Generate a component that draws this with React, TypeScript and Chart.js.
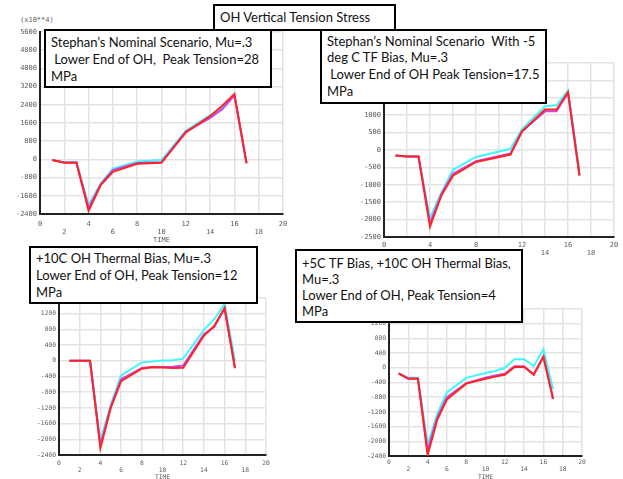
import React, { useEffect, useRef } from 'react';
import { Chart, registerables } from 'chart.js';
Chart.register(...registerables);

// ---------------- data ----------------
const xTicks = [0, 2, 4, 6, 8, 10, 12, 14, 16, 18, 20];

// Chart 1: Stephan's Nominal Scenario
const c1Time = [1, 2, 3, 4, 5, 6, 8, 10, 12, 14, 15, 16, 17];
const c1Cyan = [-30, -120, -120, -2010, -1055, -400, -90, -30, 1260, 1950, 2290, 2820, -150];
const c1Magenta = [-30, -140, -140, -2130, -1090, -470, -160, -120, 1210, 1820, 2200, 2800, -165];
const c1Red = [-30, -150, -150, -2260, -1130, -545, -190, -150, 1190, 1900, 2360, 2870, -175];

// Chart 2: -5 deg C TF bias
const c2Time = [1, 2, 3, 4, 5, 6, 8, 11, 12, 14, 15, 16, 17];
const c2Cyan = [-155, -190, -190, -1960, -1210, -570, -200, 35, 600, 1260, 1285, 1710, -600];
const c2Magenta = [-155, -190, -190, -2100, -1260, -680, -320, -100, 540, 1110, 1110, 1640, -720];
const c2Red = [-155, -190, -190, -2200, -1300, -740, -345, -130, 530, 1165, 1165, 1660, -740];

// Chart 3: +10C OH thermal bias
const c3Time = [1, 2, 3, 4, 5, 6, 8, 9, 10, 11, 12, 14, 15, 16, 17];
const c3Cyan = [0, 0, 0, -2030, -1115, -370, -40, -20, 10, 15, 55, 790, 1060, 1450, 0];
const c3Magenta = [0, 0, 0, -2150, -1170, -470, -180, -155, -160, -150, -120, 680, 860, 1330, -170];
const c3Red = [0, 0, 0, -2225, -1200, -520, -200, -165, -170, -185, -175, 640, 890, 1345, -190];

// Chart 4: +5C TF bias, +10C OH thermal bias
const c4Time = [1, 2, 3, 4, 5, 6, 8, 10, 11, 12, 13, 14, 15, 16, 17];
const c4Cyan = [-155, -270, -270, -2100, -1250, -670, -275, -140, -85, 0, 235, 235, 45, 500, -590];
const c4Magenta = [-155, -290, -290, -2250, -1350, -800, -420, -270, -210, -160, 40, 40, -180, 310, -830];
const c4Red = [-155, -300, -300, -2375, -1415, -860, -430, -300, -240, -190, 25, 25, -185, 300, -850];

const titleText = 'OH Vertical Tension Stress';
const box1Lines = ['Stephan\u2019s Nominal Scenario, Mu=.3', ' Lower End of OH,  Peak Tension=28', 'MPa'];
const box2Lines = ['Stephan\u2019s Nominal Scenario  With -5', 'deg C TF Bias, Mu=.3', ' Lower End of OH Peak Tension=17.5', 'MPa'];
const box3Lines = ['+10C OH Thermal Bias, Mu=.3', 'Lower End of OH, Peak Tension=12', 'MPa'];
const box4Lines = ['+5C TF Bias, +10C OH Thermal Bias,', 'Mu=.3', 'Lower End of OH, Peak Tension=4', 'MPa'];

const CYAN = '#3ff8f8';
const MAGENTA = '#c846f0';
const RED = '#ff2424';
const GRID = '#e3e3e3';
const TICK = '#5a5a5a';
const MONO = '"DejaVu Sans Mono", "Liberation Mono", monospace';
const TEXT_FONT = 'Lato, "Open Sans", sans-serif';

type Spec = {
  L: number; T: number; R: number; B: number;
  yMin: number; yMax: number; yStep: number;
  fontSize: number; xPad: number; xLine: number; xH: number;
  time: number[]; cyan: number[]; magenta: number[]; red: number[];
};

const ML = 32, MT = 8, MR = 12;

function PlotChart({ s }: { s: Spec }) {
  const ref = useRef<HTMLCanvasElement>(null);
  useEffect(() => {
    if (!ref.current) return;
    const mk = (arr: number[]) => s.time.map((t, i) => ({ x: t, y: arr[i] }));
    const ds = (label: string, arr: number[], color: string) => ({
      label, data: mk(arr), borderColor: color, backgroundColor: color,
      borderWidth: 2, pointRadius: 0, tension: 0, fill: false,
    });
    const tickFont = { family: MONO, size: s.fontSize, lineHeight: s.xLine / s.fontSize };
    const chart = new Chart(ref.current, {
      type: 'line',
      data: {
        datasets: [ds('red', s.red, RED), ds('magenta', s.magenta, MAGENTA), ds('cyan', s.cyan, CYAN)],
      },
      options: {
        animation: false,
        responsive: false,
        maintainAspectRatio: false,
        layout: { padding: { top: MT, right: MR, left: 0, bottom: 0 } },
        plugins: { legend: { display: false }, tooltip: { enabled: false }, title: { display: false } },
        scales: {
          x: {
            type: 'linear', min: 0, max: 20,
            afterBuildTicks: (axis: any) => { axis.ticks = xTicks.map((v) => ({ value: v })); },
            ticks: {
              autoSkip: false, maxRotation: 0, minRotation: 0, padding: s.xPad, color: TICK, font: tickFont,
              callback: (v: any) => ((Number(v) / 2) % 2 === 1 ? ['', String(v)] : String(v)),
            },
            grid: { color: GRID, lineWidth: 1.5, drawTicks: false },
            border: { display: true, color: '#222', width: 2 },
            title: { display: true, text: 'TIME', color: TICK, font: { family: MONO, size: s.fontSize, lineHeight: 1.2 }, padding: 0 },
            afterFit: (axis: any) => { axis.height = s.xH; axis.paddingLeft = 0; axis.paddingRight = 0; },
          },
          y: {
            type: 'linear', min: s.yMin, max: s.yMax,
            ticks: { stepSize: s.yStep, padding: 3, color: TICK, font: { family: MONO, size: s.fontSize }, callback: (v: any) => String(v) },
            grid: { color: GRID, lineWidth: 1.5, drawTicks: false },
            border: { display: true, color: '#222', width: 2 },
            afterFit: (axis: any) => { axis.width = ML; axis.paddingTop = 0; axis.paddingBottom = 0; },
          },
        },
      } as any,
    });
    return () => chart.destroy();
  }, [s]);
  const w = s.R - s.L + ML + MR;
  const h = s.B - s.T + MT + s.xH;
  return (
    <canvas ref={ref} width={w} height={h}
      style={{ position: 'absolute', left: s.L - ML, top: s.T - MT, width: w, height: h }} />
  );
}

const spec1: Spec = { L: 40, T: 32, R: 283, B: 214, yMin: -2400, yMax: 5600, yStep: 800, fontSize: 7, xPad: 6, xLine: 8.2, xH: 30, time: c1Time, cyan: c1Cyan, magenta: c1Magenta, red: c1Red };
const spec2: Spec = { L: 384, T: 63, R: 614, B: 237, yMin: -2500, yMax: 2500, yStep: 500, fontSize: 7, xPad: 4, xLine: 8, xH: 30, time: c2Time, cyan: c2Cyan, magenta: c2Magenta, red: c2Red };
const spec3: Spec = { L: 59, T: 298, R: 266, B: 455, yMin: -2400, yMax: 1600, yStep: 400, fontSize: 6.3, xPad: 4.5, xLine: 7, xH: 26, time: c3Time, cyan: c3Cyan, magenta: c3Magenta, red: c3Red };
const spec4: Spec = { L: 389, T: 309, R: 582, B: 456, yMin: -2400, yMax: 1600, yStep: 400, fontSize: 6.3, xPad: 3.5, xLine: 6.5, xH: 25, time: c4Time, cyan: c4Cyan, magenta: c4Magenta, red: c4Red };

function TextBox({ left, top, width, height, lines, lh, padTop }: { left: number; top: number; width: number; height: number; lines: string[]; lh: number; padTop: number }) {
  return (
    <div style={{
      position: 'absolute', left, top, width, height, boxSizing: 'border-box',
      border: '2px solid #000', background: '#fff', paddingLeft: 5, paddingTop: padTop,
      fontFamily: TEXT_FONT, fontSize: 13, lineHeight: lh + 'px', color: '#111', whiteSpace: 'pre', overflow: 'hidden',
    }}>
      {lines.map((l, i) => <div key={i}>{l}</div>)}
    </div>
  );
}

export default function App() {
  return (
    <div style={{ position: 'absolute', left: 0, top: 0, width: 623, height: 479, background: '#fff', overflow: 'hidden' }}>
      <PlotChart s={spec1} />
      <PlotChart s={spec2} />
      <PlotChart s={spec3} />
      <PlotChart s={spec4} />
      <div style={{ position: 'absolute', left: 20, top: 16, fontFamily: MONO, fontSize: 7, color: TICK, whiteSpace: 'pre' }}>(x10**4)</div>
      <TextBox left={213} top={4} width={183} height={27} lines={[titleText]} lh={17} padTop={3} />
      <TextBox left={44} top={29} width={228} height={59} lines={box1Lines} lh={17} padTop={2.5} />
      <TextBox left={320} top={29} width={227} height={75} lines={box2Lines} lh={16.7} padTop={1.6} />
      <TextBox left={29} top={246} width={229} height={58} lines={box3Lines} lh={17} padTop={1.5} />
      <TextBox left={295} top={249} width={228} height={74} lines={box4Lines} lh={16} padTop={4} />
    </div>
  );
}
